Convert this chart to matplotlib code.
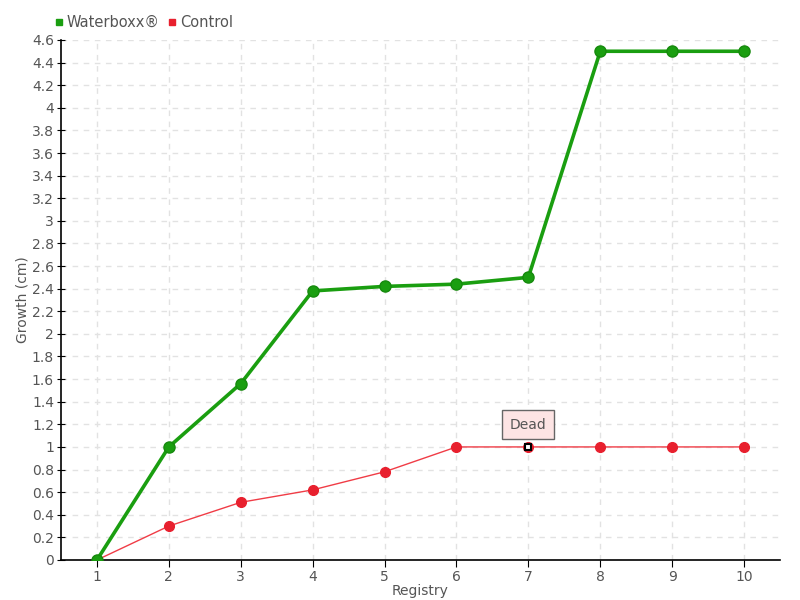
import matplotlib
matplotlib.use('Agg')
import matplotlib.pyplot as plt
from matplotlib.lines import Line2D

registry = [1, 2, 3, 4, 5, 6, 7, 8, 9, 10]
waterboxx = [0, 1.0, 1.56, 2.38, 2.42, 2.44, 2.5, 4.5, 4.5, 4.5]
control = [0, 0.3, 0.51, 0.62, 0.78, 1.0, 1.0, 1.0, 1.0, 1.0]
y_ticks = [0, 0.2, 0.4, 0.6, 0.8, 1, 1.2, 1.4, 1.6, 1.8, 2, 2.2, 2.4, 2.6,
           2.8, 3, 3.2, 3.4, 3.6, 3.8, 4, 4.2, 4.4, 4.6]
dead_index = 6

plt.rcParams['font.family'] = ['DejaVu Sans']
text_col = '#555555'

fig = plt.figure(figsize=(8, 6), dpi=100)
ax = fig.add_axes([0.07625, 0.0667, 0.89875, 0.8667])

ax.plot(registry, waterboxx, color='#1a9e10', lw=2.6, marker='o', ms=8,
        mfc='#1a9e10', mec='#168a0d', zorder=4)
ax.plot(registry, control, color='#f03c46', lw=1, marker='o', ms=7,
        mfc='#e8202e', mec='#e8202e', zorder=3)
ax.plot(registry[dead_index], control[dead_index], marker='s', ms=5,
        mfc='white', mec='black', mew=1.5, zorder=6)

# tooltip-like label above the dead point
ax.annotate('Dead', xy=(registry[dead_index], control[dead_index]),
            xytext=(0, 16), textcoords='offset points', ha='center', va='center',
            fontsize=10, color=text_col,
            bbox=dict(boxstyle='square,pad=0.55', fc='#fde4e4', ec='#666666', lw=1),
            zorder=7)

ax.set_xlim(0.5, 10.5)
ax.set_ylim(0, 4.6)
ax.set_xticks(registry)
ax.set_yticks(y_ticks)
ax.set_yticklabels([f'{v:g}' for v in y_ticks])
ax.grid(True, color='#e2e2e2', linestyle=(0, (4, 4)), lw=1)
ax.set_axisbelow(True)

for s in ['top', 'right']:
    ax.spines[s].set_visible(False)
ax.spines['left'].set_linewidth(1.2)
ax.spines['bottom'].set_linewidth(1.2)
ax.tick_params(axis='y', direction='inout', length=6, labelsize=10, labelcolor=text_col, pad=2)
ax.tick_params(axis='x', direction='out', length=5, labelsize=10, labelcolor=text_col, pad=2)

ax.set_xlabel('Registry', fontsize=10, color=text_col, labelpad=0)
ax.set_ylabel('Growth (cm)', fontsize=10, color=text_col, labelpad=2)

handles = [Line2D([], [], ls='', marker='s', ms=5, color='#1a9e10'),
           Line2D([], [], ls='', marker='s', ms=5, color='#e8202e')]
fig.legend(handles, ['Waterboxx®', 'Control'], loc='upper left',
           bbox_to_anchor=(0.05, 0.997), ncol=2, frameon=False, fontsize=10.5,
           handletextpad=0.1, columnspacing=0.5, labelcolor=text_col,
           handlelength=0.8)

plt.savefig('out.png', dpi=100)
